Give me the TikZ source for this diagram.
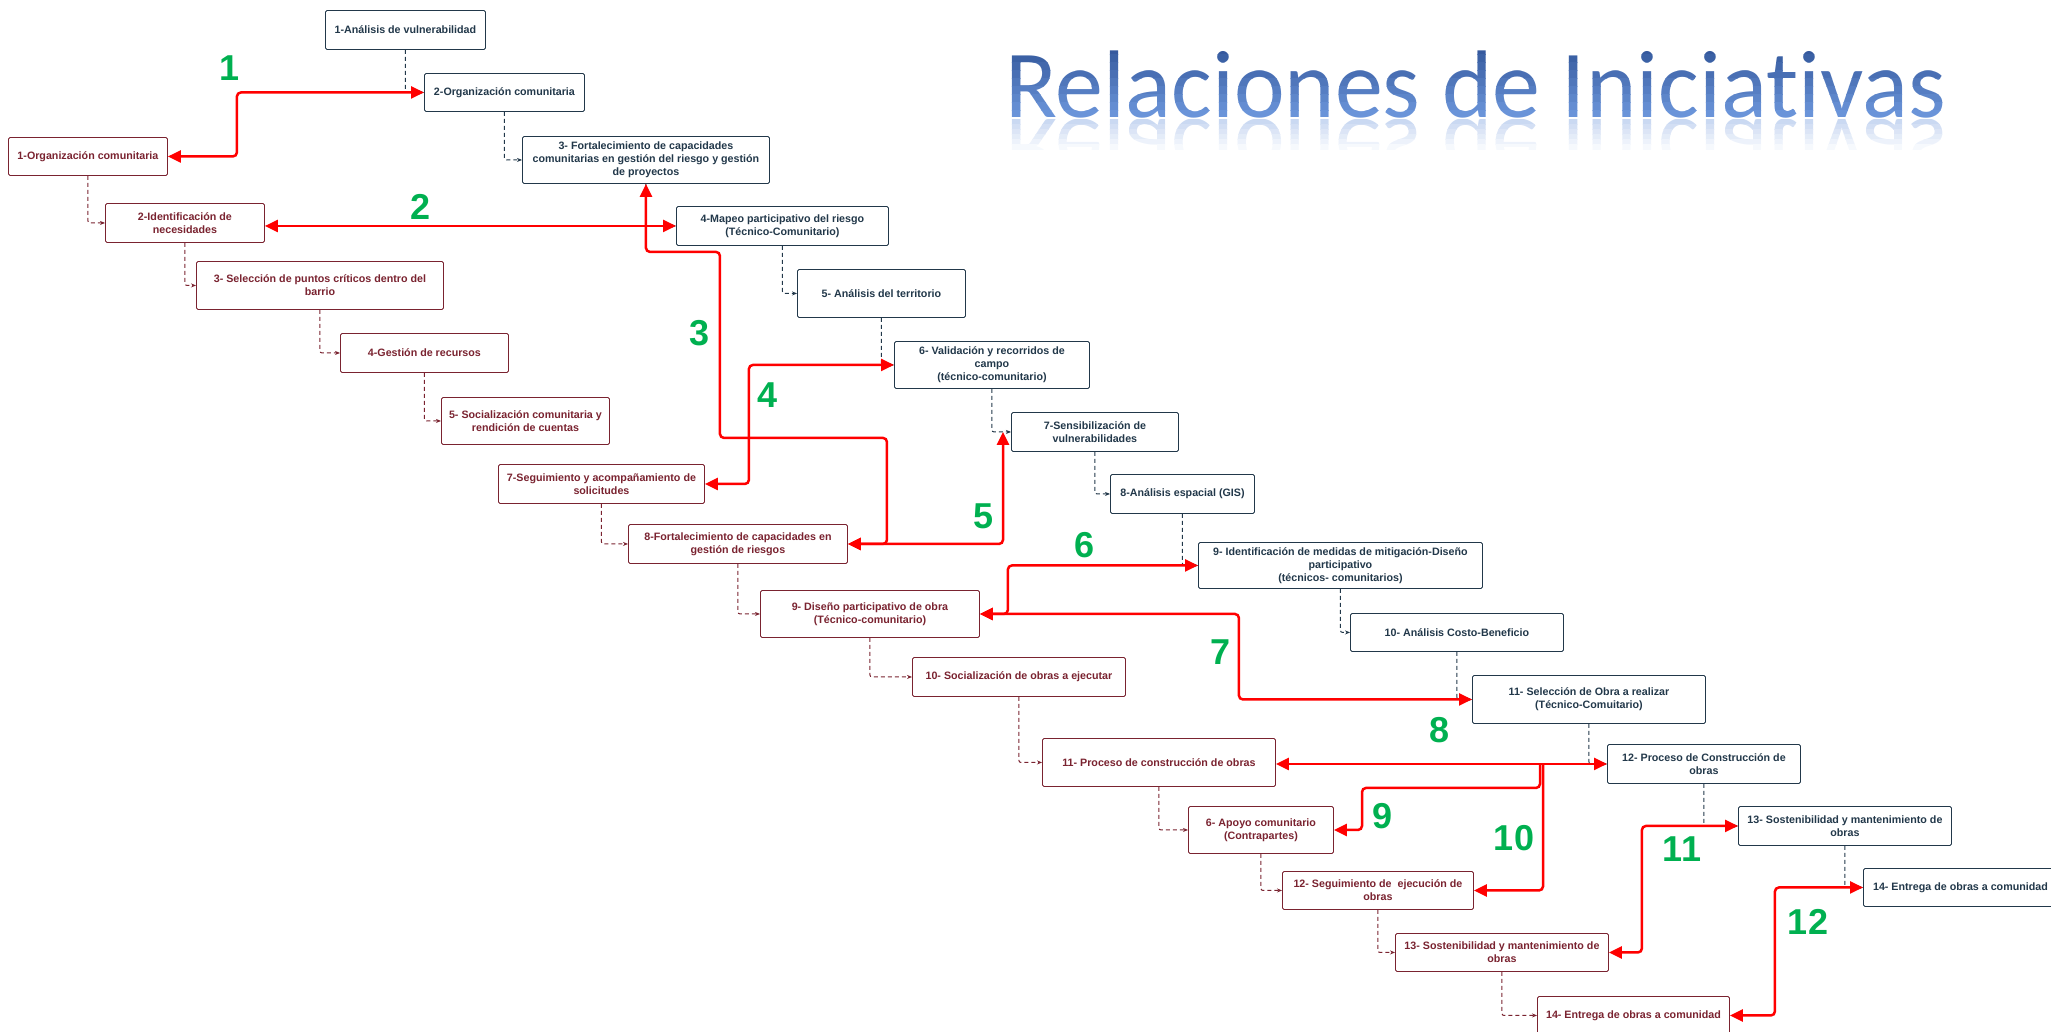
\documentclass[tikz,border=0pt]{standalone}
\usepackage{fontspec}
\usepackage{xcolor}
\usepackage{tikz}
\usetikzlibrary{arrows.meta,positioning,calc}
\newfontfamily\boxfont{Liberation Sans}
\newfontfamily\numfont{Liberation Sans}
\newfontfamily\headfont{Carlito}[Ligatures=NoCommon]
\definecolor{slate}{HTML}{22384A}
\definecolor{wine}{HTML}{7A2330}
\definecolor{linkred}{HTML}{FF0000}
\definecolor{stepgreen}{HTML}{00B050}
\definecolor{headtop}{HTML}{2E5296}
\definecolor{headbot}{HTML}{6B95DA}

\begin{document}
\begin{tikzpicture}[
  x=1pt, y=-1pt,
  box/.style    = {rectangle, rounded corners=1.5pt, draw=#1, text=#1,
                   fill=white, line width=0.9pt, align=center,
                   font=\boxfont\bfseries\fontsize{10.7}{13}\selectfont,
                   inner sep=2pt, anchor=north west},
  box/.default  = slate,
  seqline/.style = {-{Stealth[length=5pt,width=4pt]}, dash pattern=on 4pt off 3pt,
                   line width=1pt, rounded corners=2pt, draw=#1},
  seqline/.default = slate,
  link/.style   = {{Triangle[length=13pt,width=12pt]}-{Triangle[length=13pt,width=12pt]},
                   line width=2.5pt, linkred, rounded corners=4pt},
  link1/.style  = {-{Triangle[length=13pt,width=12pt]},
                   line width=2.5pt, linkred, rounded corners=4pt},
  stepnum/.style = {font=\numfont\bfseries\fontsize{36}{36}\selectfont,
                   text=stepgreen, inner sep=0pt},
  headline/.style = {font=\headfont\fontsize{96}{96}\selectfont,
                   inner sep=0pt, anchor=base west}
]
\useasboundingbox (0,0) rectangle (2051,1031);

%% ─── Title with vertical colour fade and reflection ─────────────
\foreach \i in {0,...,9} {
  \pgfmathtruncatemacro\pct{\i*11}
  \begin{scope}
    \clip (990,{38+\i*8}) rectangle (1980,{46+\i*8});
    \node[headline, text=headbot!\pct!headtop] (head\i) at (1005,117)
      {Relaciones de Iniciativas};
  \end{scope}
}
\foreach \j in {0,...,5} {
  \pgfmathtruncatemacro\fade{36-\j*6}
  \begin{scope}
    \clip (990,{119+\j*5}) rectangle (1980,{124+\j*5});
    \node[headline, yscale=-1, text=headbot!\fade!white] (mirror\j) at (1005,119)
      {Relaciones de Iniciativas};
  \end{scope}
}

%% ─── Technical column (blue) ────────────────────────────────────
\node[box, minimum width=160pt, minimum height=39pt] (tec1) at (325,10)
  {1-Análisis de vulnerabilidad};
\node[box, minimum width=160pt, minimum height=38pt] (tec2) at (424,73)
  {2-Organización comunitaria};
\node[box, minimum width=247pt, minimum height=47pt] (tec3) at (522,136)
  {3- Fortalecimiento de capacidades\\comunitarias en gestión del riesgo y gestión\\de proyectos};
\node[box, minimum width=212pt, minimum height=39pt] (tec4) at (676,206)
  {4-Mapeo participativo del riesgo\\(Técnico-Comunitario)};
\node[box, minimum width=168pt, minimum height=48pt] (tec5) at (797,269)
  {5- Análisis del territorio};
\node[box, minimum width=195pt, minimum height=47pt] (tec6) at (894,341)
  {6- Validación y recorridos de\\campo\\(técnico-comunitario)};
\node[box, minimum width=167pt, minimum height=39pt] (tec7) at (1011,412)
  {7-Sensibilización de\\vulnerabilidades};
\node[box, minimum width=144pt, minimum height=39pt] (tec8) at (1110,474)
  {8-Análisis espacial (GIS)};
\node[box, minimum width=284pt, minimum height=46pt] (tec9) at (1198,542)
  {9- Identificación de medidas de mitigación-Diseño\\participativo\\(técnicos- comunitarios)};
\node[box, minimum width=213pt, minimum height=38pt] (tec10) at (1350,613)
  {10- Análisis Costo-Beneficio};
\node[box, minimum width=233pt, minimum height=48pt] (tec11) at (1472,675)
  {11- Selección de Obra a realizar\\(Técnico-Comuitario)};
\node[box, minimum width=193pt, minimum height=39pt] (tec12) at (1607,744)
  {12- Proceso de Construcción de\\obras};
\node[box, minimum width=213pt, minimum height=39pt] (tec13) at (1738,806)
  {13- Sostenibilidad y mantenimiento de\\obras};
\node[box, minimum width=194pt, minimum height=38pt] (tec14) at (1863,868)
  {14- Entrega de obras a comunidad};

%% ─── Community column (dark red) ────────────────────────────────
\node[box=wine, minimum width=159pt, minimum height=38pt] (com1) at (8,137)
  {1-Organización comunitaria};
\node[box=wine, minimum width=159pt, minimum height=39pt] (com2) at (105,203)
  {2-Identificación de\\necesidades};
\node[box=wine, minimum width=247pt, minimum height=48pt] (com3) at (196,261)
  {3- Selección de puntos críticos dentro del\\barrio};
\node[box=wine, minimum width=168pt, minimum height=39pt] (com4) at (340,333)
  {4-Gestión de recursos};
\node[box=wine, minimum width=168pt, minimum height=47pt] (com5) at (441,397)
  {5- Socialización comunitaria y\\rendición de cuentas};
\node[box=wine, minimum width=206pt, minimum height=39pt] (com7) at (498,464)
  {7-Seguimiento y acompañamiento de\\solicitudes};
\node[box=wine, minimum width=219pt, minimum height=39pt] (com8) at (628,524)
  {8-Fortalecimiento de capacidades en\\gestión de riesgos};
\node[box=wine, minimum width=219pt, minimum height=47pt] (com9) at (760,590)
  {9- Diseño participativo de obra\\(Técnico-comunitario)};
\node[box=wine, minimum width=213pt, minimum height=39pt] (com10) at (912,657)
  {10- Socialización de obras a ejecutar};
\node[box=wine, minimum width=233pt, minimum height=48pt] (com11) at (1042,738)
  {11- Proceso de construcción de obras};
\node[box=wine, minimum width=145pt, minimum height=47pt] (com6) at (1188,806)
  {6- Apoyo comunitario\\(Contrapartes)};
\node[box=wine, minimum width=191pt, minimum height=38pt] (com12) at (1282,871)
  {12- Seguimiento de~ ejecución de\\obras};
\node[box=wine, minimum width=213pt, minimum height=38pt] (com13) at (1395,933)
  {13- Sostenibilidad y mantenimiento de\\obras};
\node[box=wine, minimum width=192pt, minimum height=38pt] (com14) at (1537,996)
  {14- Entrega de obras a comunidad};

%% ─── Dashed sequence: technical column ──────────────────────────
\draw[seqline] (tec1.south)  |- (tec2.west);
\draw[seqline] (tec2.south)  |- (tec3.west);
\draw[seqline] (tec3.south)  |- (tec4.west);
\draw[seqline] (tec4.south)  |- (tec5.west);
\draw[seqline] (tec5.south)  |- (tec6.west);
\draw[seqline] (tec6.south)  |- (tec7.west);
\draw[seqline] (tec7.south)  |- (tec8.west);
\draw[seqline] (tec8.south)  |- (tec9.west);
\draw[seqline] (tec9.south)  |- (tec10.west);
\draw[seqline] (tec10.south) |- (tec11.west);
\draw[seqline] (tec11.south) |- (tec12.west);
\draw[seqline] (tec12.south) |- (tec13.west);
\draw[seqline] (tec13.south) |- (tec14.west);

%% ─── Dashed sequence: community column ──────────────────────────
\draw[seqline=wine] (com1.south)  |- (com2.west);
\draw[seqline=wine] (com2.south)  |- (com3.west);
\draw[seqline=wine] (com3.south)  |- (com4.west);
\draw[seqline=wine] (com4.south)  |- (com5.west);
\draw[seqline=wine] (com7.south)  |- (com8.west);
\draw[seqline=wine] (com8.south)  |- (com9.west);
\draw[seqline=wine] (com9.south)  |- (com10.west);
\draw[seqline=wine] (com10.south) |- (com11.west);
\draw[seqline=wine] (com11.south) |- (com6.west);
\draw[seqline=wine] (com6.south)  |- (com12.west);
\draw[seqline=wine] (com12.south) |- (com13.west);
\draw[seqline=wine] (com13.south) |- (com14.west);

%% ─── Red relations between the two columns ──────────────────────
\draw[link]  (com1.east) -- ++(69,0) |- (tec2.west);
\draw[link]  (tec4.west -| com2.east) -- (tec4.west);
\draw[link]  (tec3.south) -- ++(0,68) -- ++(74,0) -- ++(0,186) -- ++(167,0) |- (com8.east);
\draw[link]  (com7.east) -- ++(44,0) |- (tec6.west);
\draw[link]  (com8.east) -| ([xshift=-8pt]tec7.west);
\draw[link]  (com9.east) -- ++(28,0) |- (tec9.west);
\draw[link]  (com9.east) -- ++(259,0) |- (tec11.west);
\draw[link]  (tec12.west -| com11.east) -- (tec12.west);
\coordinate (fork) at ([xshift=-67pt]tec12.west);
\draw[link1] (fork) |- ++(-178,24) |- (com6.east);
\draw[link1] ([xshift=3pt]fork) |- (com12.east);
\draw[link]  (com13.east) -- ++(33,0) |- (tec13.west);
\draw[link]  (com14.east) -- ++(45,0) |- (tec14.west);

%% ─── Relation numbers ───────────────────────────────────────────
\node[stepnum] (n1)  at (230,68)   {1};
\node[stepnum] (n2)  at (421,207)  {2};
\node[stepnum] (n3)  at (700,333)  {3};
\node[stepnum] (n4)  at (768,395)  {4};
\node[stepnum] (n5)  at (983,516)  {5};
\node[stepnum] (n6)  at (1084,545) {6};
\node[stepnum] (n7)  at (1220,652) {7};
\node[stepnum] (n8)  at (1439,730) {8};
\node[stepnum] (n9)  at (1382,816) {9};
\node[stepnum] (n10) at (1514,838) {10};
\node[stepnum] (n11) at (1682,849) {11};
\node[stepnum] (n12) at (1808,922) {12};

\end{tikzpicture}
\end{document}
